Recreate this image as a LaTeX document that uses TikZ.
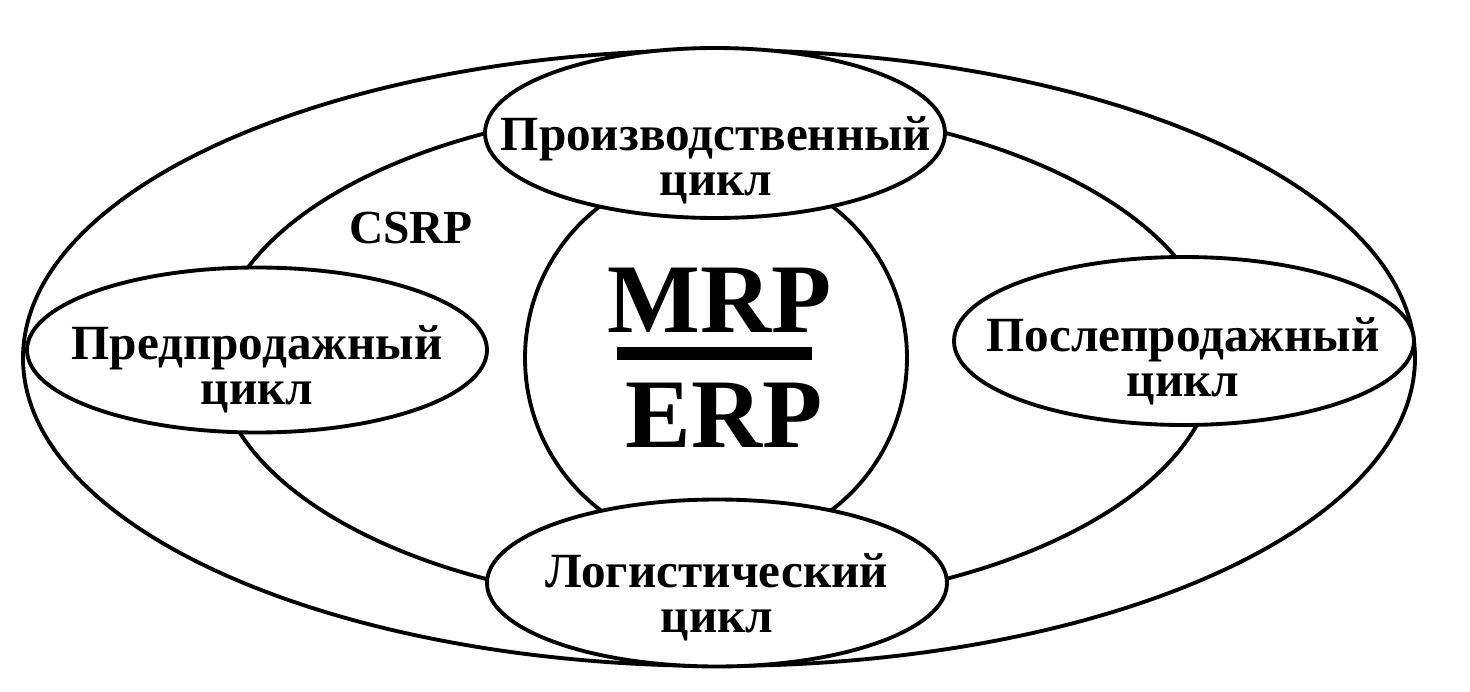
\documentclass[tikz,border=0pt]{standalone}
\usepackage{fontspec}
\setmainfont{Liberation Serif}
\usetikzlibrary{shapes.geometric}

\begin{document}
\begin{tikzpicture}[x=0.1mm,y=-0.1mm,line width=1.1pt,
  ring/.style={draw,ellipse,inner sep=0pt},
  cyc/.style={draw,ellipse,fill=white,inner sep=0pt,minimum width=46mm},
  cyctext/.style={align=center,inner sep=0pt,font=\bfseries\fontsize{14}{12.8}\selectfont},
  core/.style={anchor=base,inner sep=0pt,font=\bfseries\fontsize{28}{30}\selectfont}]
  \useasboundingbox (0,0) rectangle (1470,692);

  %% Rings around the core
  \node[ring,minimum width=139.2mm,minimum height=61.6mm] (outer) at (719,358) {};
  \node[ring,minimum width=100mm,minimum height=50.2mm] (csrpring) at (716,356) {};
  \node[ring,circle,minimum size=38.2mm] (corecircle) at (716,358) {};

  %% Four cycles sitting on the rings
  \node[cyc,minimum height=17mm]   (prod) at (715,133) {};
  \node[cyc,minimum height=16.5mm] (pre)  at (257,350) {};
  \node[cyc,minimum height=16.8mm] (post) at (1184,341) {};
  \node[cyc,minimum height=16.7mm] (logi) at (717,583) {};

  \node[cyctext] (prodtxt) at (716,160)  {Производственный\\цикл};
  \node[cyctext] (pretxt)  at (257,369)  {Предпродажный\\цикл};
  \node[cyctext] (posttxt) at (1183,361) {Послепродажный\\цикл};
  \node[cyctext] (logitxt) at (717,597)  {Логистический\\цикл};

  %% Labels of the rings
  \node[anchor=base,inner sep=0pt,font=\bfseries\fontsize{13.5}{15}\selectfont] (csrp) at (411,243) {CSRP};
  \node[core] (mrp) at (720,332) {MRP};
  \node[core] (erp) at (724,447) {ERP};
  \coordinate (barL) at (617,353);
  \coordinate (barR) at (812,353);
  \draw[line width=1.3mm] (barL) -- (barR);
\end{tikzpicture}
\end{document}
